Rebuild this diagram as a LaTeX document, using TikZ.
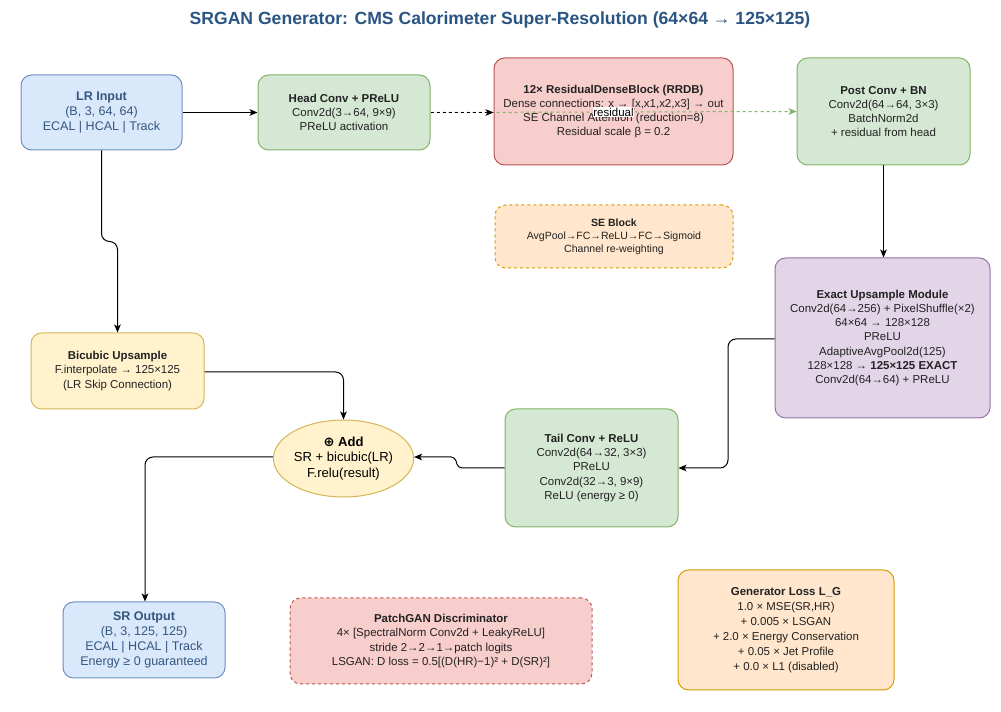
\documentclass[tikz,border=0pt]{standalone}
\usepackage{fontspec}
\setmainfont{Liberation Sans}
\newfontfamily\dv{DejaVu Sans}
\usetikzlibrary{arrows.meta,positioning,shapes.geometric}
\definecolor{blueF}{HTML}{DAE8FC}\definecolor{blueD}{HTML}{6C8EBF}
\definecolor{greenF}{HTML}{D5E8D4}\definecolor{greenD}{HTML}{82B366}
\definecolor{redF}{HTML}{F8CECC}\definecolor{redD}{HTML}{B85450}
\definecolor{orangeF}{HTML}{FFE6CC}\definecolor{orangeD}{HTML}{D79B00}
\definecolor{purpleF}{HTML}{E1D5E7}\definecolor{purpleD}{HTML}{9673A6}
\definecolor{yellowF}{HTML}{FFF2CC}\definecolor{yellowD}{HTML}{D6B656}
\definecolor{titleC}{HTML}{2A5583}
\definecolor{blueT}{HTML}{34577F}
\definecolor{txt}{HTML}{222222}
\tikzset{
  box/.style={rounded corners=8pt, draw, line width=0.75pt, align=center, inner sep=1pt, text=txt,
    font=\fontsize{8.6}{10.6}\selectfont},
  bluebox/.style={box, fill=blueF, draw=blueD, text=blueT, font=\fontsize{9.4}{11.4}\selectfont},
  greenbox/.style={box, fill=greenF, draw=greenD},
  redbox/.style={box, fill=redF, draw=redD},
  orangebox/.style={box, fill=orangeF, draw=orangeD},
  purplebox/.style={box, fill=purpleF, draw=purpleD},
  yellowbox/.style={box, fill=yellowF, draw=yellowD},
  dashedbox/.style={dash pattern=on 2.25pt off 2.25pt},
  arr/.style={draw=black, line width=0.75pt, -{Stealth[length=6pt,width=5pt,inset=1.5pt]}, rounded corners=6pt},
}
\begin{document}
\begin{tikzpicture}[x=0.75pt,y=-0.75pt]
\useasboundingbox (0,0) rectangle (1001,712);
\fill[white] (0,0) rectangle (1001,712);

\node[font=\bfseries\fontsize{13.2}{15}\selectfont, text=titleC] (title) at (500,20)
  {SRGAN Generator: CMS Calorimeter Super-Resolution (64×64 → 125×125)};

\node[bluebox, minimum width=161*0.75pt, minimum height=75*0.75pt] (lr) at (101.5,112.5)
  {\textbf{LR Input}\\(B, 3, 64, 64)\\ECAL | HCAL | Track};
\node[greenbox, minimum width=172*0.75pt, minimum height=75*0.75pt] (head) at (344,112.5)
  {\textbf{Head Conv + PReLU}\\Conv2d(3→64, 9×9)\\PReLU activation};
\node[redbox, minimum width=239*0.75pt, minimum height=107*0.75pt] (rrdb) at (613.5,111.5)
  {\textbf{12× ResidualDenseBlock (RRDB)}\\Dense connections: x → [x,x1,x2,x3] → out\\SE Channel Attention (reduction=8)\\Residual scale β = 0.2};
\node[greenbox, minimum width=173*0.75pt, minimum height=107*0.75pt] (post) at (883.5,111.5)
  {\textbf{Post Conv + BN}\\Conv2d(64→64, 3×3)\\BatchNorm2d\\+ residual from head};
\node[orangebox, dashedbox, minimum width=238*0.75pt, minimum height=63*0.75pt,
  font=\fontsize{7.9}{9.8}\selectfont] (se) at (614,236.5)
  {\textbf{SE Block}\\AvgPool→FC→ReLU→FC→Sigmoid\\Channel re-weighting};
\node[purplebox, minimum width=215*0.75pt, minimum height=160*0.75pt] (exact) at (882.5,338)
  {\textbf{Exact Upsample Module}\\Conv2d(64→256) + PixelShuffle(×2)\\64×64 → 128×128\\PReLU\\AdaptiveAvgPool2d(125)\\128×128 → \textbf{125×125 EXACT}\\Conv2d(64→64) + PReLU};
\node[yellowbox, minimum width=173*0.75pt, minimum height=76*0.75pt] (bic) at (117.5,371)
  {\textbf{Bicubic Upsample}\\F.interpolate → 125×125\\(LR Skip Connection)};
\node[ellipse, draw=yellowD, fill=yellowF, line width=0.75pt, align=center, inner sep=0pt,
  minimum width=109*0.75pt, minimum height=77*0.75pt, text=black,
  font=\fontsize{9.8}{11.8}\selectfont] (add) at (343.5,458.5)
  {\textbf{{\dv ⊕} Add}\\SR + bicubic(LR)\\F.relu(result)};
\node[greenbox, minimum width=173*0.75pt, minimum height=118*0.75pt] (tail) at (591.5,468)
  {\textbf{Tail Conv + ReLU}\\Conv2d(64→32, 3×3)\\PReLU\\Conv2d(32→3, 9×9)\\ReLU (energy ≥ 0)};
\node[bluebox, minimum width=162*0.75pt, minimum height=76*0.75pt] (sr) at (144,640)
  {\textbf{SR Output}\\(B, 3, 125, 125)\\ECAL | HCAL | Track\\Energy ≥ 0 guaranteed};
\node[redbox, dashedbox, minimum width=302*0.75pt, minimum height=86*0.75pt] (patch) at (441,641)
  {\textbf{PatchGAN Discriminator}\\4× [SpectralNorm Conv2d + LeakyReLU]\\stride 2→2→1→patch logits\\LSGAN: D loss = 0.5[(D(HR)−1)² + D(SR)²]};
\node[orangebox, minimum width=216*0.75pt, minimum height=120*0.75pt,
  font=\fontsize{8.6}{11.2}\selectfont] (loss) at (786,630)
  {\textbf{Generator Loss L\_G}\\1.0 × MSE(SR,HR)\\+ 0.005 × LSGAN\\+ 2.0 × Energy Conservation\\+ 0.05 × Jet Profile\\+ 0.0 × L1 (disabled)};

% connectors
\draw[arr] (lr.east) -- (head.west);
\draw[arr] (lr.south) -- (101.5,241.5) -- (117.5,241.5) -- (bic.north);
\draw[arr] (bic.east |- 0,372) -- (343.5,372) -- (add.north);
\draw[draw=greenD, line width=0.75pt, dash pattern=on 2.25pt off 2.25pt,
  -{Stealth[length=6pt,width=5pt,inset=1.5pt]}] (head.east) -- (post.west)
  node[pos=0.5, fill=white, inner sep=0.5pt, text=black, font=\fontsize{8.6}{10}\selectfont] (reslbl) {residual};
\draw[arr, dash pattern=on 2.25pt off 2.25pt] (head.east) -- (rrdb.west |- head.east);
\draw[arr] (post.south) -- (exact.north -| post.south);
\draw[arr] (exact.west |- 0,339) -- (728,339) -- (728,468) -- (tail.east |- 0,468);
\draw[arr, rounded corners=3pt] (tail.west |- 0,468) -- (458,468) -- (455,457) -- (add.east |- 0,457);
\draw[arr] (add.west |- 0,457) -- (145,457) -- (sr.north -| 145,0);
\end{tikzpicture}
\end{document}
